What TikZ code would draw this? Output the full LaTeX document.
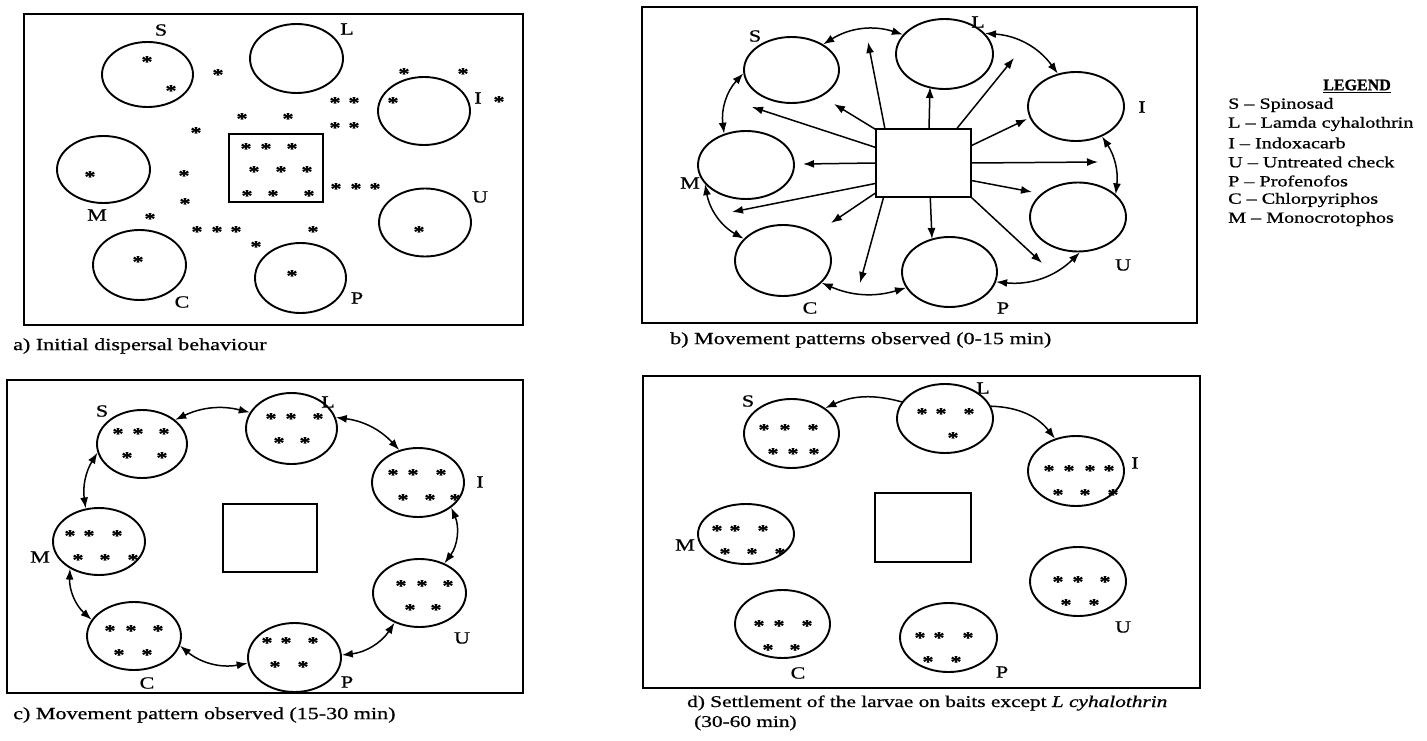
\documentclass[tikz,border=0pt]{standalone}
\usepackage{fontspec}
\setmainfont{Liberation Serif}
\newfontfamily\stretchserif[FakeStretch=1.3, FakeBold=0.8]{Liberation Serif}
\newfontfamily\headserif[FakeStretch=1.0, FakeBold=0.8]{Liberation Serif}
\usetikzlibrary{shapes.geometric,arrows.meta}
\newcommand\figcapfont{\stretchserif\fontsize{17}{20}\selectfont}
\newcommand\figcapdfont{\stretchserif\fontsize{16.4}{19}\selectfont}
\newcommand\figlblfont{\stretchserif\fontsize{17}{18}\selectfont}
\newcommand\figastfont{\stretchserif\bfseries\fontsize{17}{18}\selectfont}
\newcommand\figlegfont{\stretchserif\fontsize{15.5}{18}\selectfont}
\tikzset{
  frame/.style={draw, line width=1.9pt},
  dish/.style={draw, ellipse, line width=1.9pt, inner sep=0pt},
  bait/.style={draw, rectangle, line width=1.7pt, inner sep=0pt},
  lbl/.style={font=\figlblfont, inner sep=0pt},
  ast/.style={font=\figastfont, inner sep=0pt, yshift=-2.7pt},
  captext/.style={font=\figcapfont, anchor=west, inner sep=0pt},
  leg/.style={font=\figlegfont, anchor=west, inner sep=0pt},
  arr/.style={-{Latex[length=11pt,width=8pt]}, line width=1.5pt},
  darr/.style={{Latex[length=11pt,width=8pt]}-{Latex[length=11pt,width=8pt]}, line width=1.5pt},
}
\begin{document}
\begin{tikzpicture}[x=1pt,y=1pt]
\useasboundingbox (0,0) rectangle (1427,-741);
\fill[white] (0,0) rectangle (1427,-741);

% ================= panel a =================
\draw[frame] (24,-14) rectangle (523,-325);
\node[dish, minimum width=91pt, minimum height=65pt] (Sa) at (147.5,-74.5) {};
\node[dish, minimum width=93pt, minimum height=69pt] (La) at (296.5,-58.5) {};
\node[dish, minimum width=92pt, minimum height=68pt] (Ia) at (424,-111) {};
\node[dish, minimum width=93pt, minimum height=67pt] (Ma) at (103.5,-169.5) {};
\node[dish, minimum width=93pt, minimum height=70pt] (Ca) at (139.5,-265) {};
\node[dish, minimum width=91pt, minimum height=70pt] (Pa) at (300.5,-278) {};
\node[dish, minimum width=92pt, minimum height=68pt] (Ua) at (425,-222.5) {};
\node[bait, minimum width=94pt, minimum height=68pt] (Ba) at (276,-168) {};
\node[lbl] (lSa) at (161,-30) {S};
\node[lbl] (lLa) at (347,-29) {L};
\node[lbl] (lIa) at (478,-98) {I};
\node[lbl] (lUa) at (480,-197) {U};
\node[lbl] (lMa) at (97,-215) {M};
\node[lbl] (lCa) at (182,-302) {C};
\node[lbl] (lPa) at (357,-298) {P};
\foreach \p [count=\i] in {(147,-59),(171,-88),(218,-72),(404,-71),(463,-71),(393,-100),(499,-99),
  (335,-100),(354,-100),(335,-125),(354,-125),(242,-116),(288,-116),(196,-130),
  (246,-146),(266,-146),(292,-146),(254,-169),(281,-169),(307,-169),(247,-193),(273,-193),(309,-193),
  (90,-174),(184,-173),(185,-201),(150,-216),(197,-229),(217,-229),(236,-229),(256,-244),(313,-229),
  (138,-259),(292,-273),(419,-229),(336,-186),(356,-186),(375,-186)}
  \node[ast] (aa\i) at \p {*};
\node[captext] (capa) at (13,-346) {a) Initial dispersal behaviour};

% ================= panel b =================
\draw[frame] (642,-7) rectangle (1197,-323);
\node[dish, minimum width=95pt, minimum height=66pt] (Sb) at (791.5,-70) {};
\node[dish, minimum width=97pt, minimum height=70pt] (Lb) at (944.5,-54) {};
\node[dish, minimum width=96pt, minimum height=69pt] (Ib) at (1076,-106.5) {};
\node[dish, minimum width=96pt, minimum height=69pt] (Ub) at (1078,-217) {};
\node[dish, minimum width=95pt, minimum height=70pt] (Pb) at (949.5,-272) {};
\node[dish, minimum width=96pt, minimum height=71pt] (Cb) at (783,-260.5) {};
\node[dish, minimum width=96pt, minimum height=68pt] (Mb) at (746,-165) {};
\node[bait, minimum width=95pt, minimum height=68pt] (Bb) at (923.5,-163) {};
\node[lbl] (lSb) at (755,-36) {S};
\node[lbl] (lLb) at (978,-22) {L};
\node[lbl] (lIb) at (1142,-107) {I};
\node[lbl] (lUb) at (1123,-265) {U};
\node[lbl] (lMb) at (690,-183) {M};
\node[lbl] (lCb) at (810,-308) {C};
\node[lbl] (lPb) at (1003,-308) {P};
\coordinate (t1) at (868,-42);
\coordinate (t2) at (930,-87);
\coordinate (t3) at (1014,-58);
\coordinate (t4) at (1027,-119);
\coordinate (t5) at (1098,-162);
\coordinate (t6) at (1032,-192);
\coordinate (t7) at (1042,-263);
\coordinate (t8) at (932,-239);
\coordinate (t9) at (860,-283);
\coordinate (t10) at (831,-223);
\coordinate (t11) at (732,-212);
\coordinate (t12) at (803,-164);
\coordinate (t13) at (752,-107);
\coordinate (t14) at (834,-104);
\draw[arr] (Bb.138) -- (t1);
\draw[arr] (Bb.81) -- (t2);
\draw[arr] (Bb.46) -- (t3);
\draw[arr] (Bb.20) -- (t4);
\draw[arr] (Bb.0) -- (t5);
\draw[arr] (Bb.-20) -- (t6);
\draw[arr] (Bb.south east) -- (t7);
\draw[arr] (Bb.-79) -- (t8);
\draw[arr] (Bb.-139) -- (t9);
\draw[arr] (Bb.-148) -- (t10);
\draw[arr] (Bb.-157) -- (t11);
\draw[arr] (Bb.180) -- (t12);
\draw[arr] (Bb.162) -- (t13);
\draw[arr] (Bb.145) -- (t14);
\draw[darr] (Sb.39) to[bend left=25] (Lb.155);
\draw[darr] (Lb.27) to[bend left=25] (Ib.119);
\draw[darr] (Ib.-49) to[bend left=20] (Ub.31);
\draw[darr] (Ub.-87) to[bend left=25] (Pb.-12);
\draw[darr] (Pb.-160) to[bend left=20] (Cb.-30);
\draw[darr] (Cb.151) to[bend left=25] (Mb.-155);
\draw[darr] (Mb.125) to[bend left=25] (Sb.-176);
\node[captext] (capb) at (670,-340) {b) Movement patterns observed (0-15 min)};

% ================= panel c =================
\draw[frame] (7,-380) rectangle (523,-693);
\node[dish, minimum width=90pt, minimum height=68pt] (Sc) at (142,-444) {};
\node[dish, minimum width=91pt, minimum height=71pt] (Lc) at (291.5,-428.5) {};
\node[dish, minimum width=92pt, minimum height=69pt] (Ic) at (418,-482.5) {};
\node[dish, minimum width=93pt, minimum height=68pt] (Uc) at (419.5,-593) {};
\node[dish, minimum width=93pt, minimum height=69pt] (Pc) at (294.5,-657.5) {};
\node[dish, minimum width=94pt, minimum height=68pt] (Cc) at (134,-636) {};
\node[dish, minimum width=92pt, minimum height=67pt] (Mc) at (99,-541.5) {};
\node[bait, minimum width=94pt, minimum height=68pt] (Bc) at (270,-538) {};
\node[lbl] (lSc) at (102,-411) {S};
\node[lbl] (lLc) at (328,-402) {L};
\node[lbl] (lIc) at (480,-482) {I};
\node[lbl] (lUc) at (462,-638) {U};
\node[lbl] (lPc) at (347,-682) {P};
\node[lbl] (lCc) at (147,-683) {C};
\node[lbl] (lMc) at (40,-557) {M};
\foreach \p [count=\i] in {(118,-431),(138,-431),(164,-431),(127,-455),(162,-455),
  (271,-416),(291,-416),(318,-416),(279,-440),(305,-440),
  (393,-472),(413,-472),(441,-472),(403,-497),(430,-497),(455,-497),
  (401,-583),(422,-583),(448,-583),(410,-607),(436,-607),
  (267,-640),(286,-640),(313,-640),(275,-664),(303,-664),
  (110,-628),(131,-628),(158,-628),(119,-652),(147,-652),
  (70,-533),(89,-533),(117,-533),(78,-557),(105,-557),(133,-557)}
  \node[ast] (ac\i) at \p {*};
\draw[darr] (Sc.36) to[bend left=20] (Lc.159);
\draw[darr] (Lc.14) to[bend left=20] (Ic.120);
\draw[darr] (Ic.-37) to[bend left=30] (Uc.50);
\draw[darr] (Uc.-130) to[bend left=25] (Pc.3);
\draw[darr] (Pc.-173) to[bend left=25] (Cc.-12);
\draw[darr] (Cc.159) to[bend left=25] (Mc.-137);
\draw[darr] (Mc.112) to[bend left=20] (Sc.-169);
\node[captext] (capc) at (13,-715) {c) Movement pattern observed (15-30 min)};

% ================= panel d =================
\draw[frame] (643,-376) rectangle (1200,-688);
\node[dish, minimum width=95pt, minimum height=69pt] (Sd) at (791.5,-433.5) {};
\node[dish, minimum width=96pt, minimum height=69pt] (Ld) at (945,-418.5) {};
\node[dish, minimum width=96pt, minimum height=70pt] (Id) at (1076,-471) {};
\node[dish, minimum width=96pt, minimum height=69pt] (Ud) at (1078,-581.5) {};
\node[dish, minimum width=97pt, minimum height=69pt] (Pd) at (948.5,-637.5) {};
\node[dish, minimum width=95pt, minimum height=68pt] (Cd) at (782.5,-624) {};
\node[dish, minimum width=96pt, minimum height=60pt] (Md) at (746,-534) {};
\node[bait, minimum width=96pt, minimum height=69pt] (Bd) at (923,-527.5) {};
\node[lbl] (lSd) at (748,-401) {S};
\node[lbl] (lLd) at (983,-388) {L};
\node[lbl] (lId) at (1135,-463) {I};
\node[lbl] (lUd) at (1123,-627) {U};
\node[lbl] (lPd) at (1002,-672) {P};
\node[lbl] (lCd) at (798,-673) {C};
\node[lbl] (lMd) at (685,-545) {M};
\foreach \p [count=\i] in {(764,-427),(785,-427),(813,-427),(773,-451),(793,-451),(814,-451),
  (922,-411),(941,-411),(969,-411),(953,-435),
  (1049,-468),(1069,-468),(1090,-468),(1109,-468),(1058,-492),(1085,-492),(1113,-492),
  (1058,-579),(1078,-579),(1105,-579),(1066,-602),(1094,-602),
  (717,-528),(735,-528),(763,-528),(725,-551),(752,-551),(780,-551),
  (759,-623),(779,-623),(807,-623),(768,-647),(795,-647),
  (920,-635),(939,-635),(968,-635),(928,-659),(956,-659)}
  \node[ast] (ad\i) at \p {*};
\draw[arr] (Ld.159) to[bend right=20] (Sd.37);
\draw[arr] (Ld.15) to[bend left=25] (Id.123);
\node[captext, font=\figcapdfont] (capd) at (687,-703) {d) Settlement of the larvae on baits except \textit{L cyhalothrin}};
\node[captext, font=\figcapdfont] (capd2) at (694,-723) {(30-60 min)};

% ================= legend =================
\node[font=\headserif\bfseries\fontsize{16}{18}\selectfont, inner sep=0pt] (leghead) at (1357,-86) {\underline{LEGEND}};
\node[leg] (leg1) at (1228,-105) {S – Spinosad};
\node[leg] (leg2) at (1228,-124) {L – Lamda cyhalothrin};
\node[leg] (leg3) at (1228,-143) {I – Indoxacarb};
\node[leg] (leg4) at (1228,-162) {U – Untreated check};
\node[leg] (leg5) at (1228,-181) {P – Profenofos};
\node[leg] (leg6) at (1228,-200) {C – Chlorpyriphos};
\node[leg] (leg7) at (1228,-219) {M – Monocrotophos};
\end{tikzpicture}
\end{document}
